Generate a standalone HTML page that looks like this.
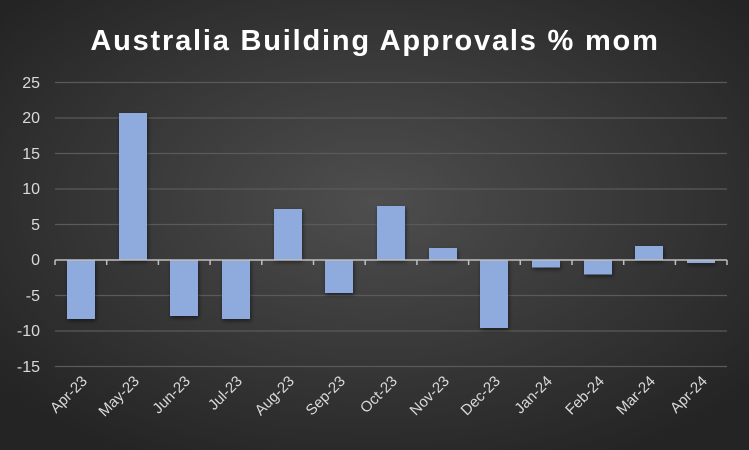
<!DOCTYPE html>
<html><head><meta charset="utf-8"><style>
html,body{margin:0;padding:0;width:749px;height:450px;overflow:hidden;background:#2a2a2a}
</style></head><body>
<svg width="749" height="450" xmlns="http://www.w3.org/2000/svg" font-family="Liberation Sans, sans-serif">
<defs>
<radialGradient id="bg" cx="50%" cy="45%" r="65%">
<stop offset="0" stop-color="#4e4e4e"/><stop offset="1" stop-color="#242424"/>
</radialGradient>
<filter id="sh"><feDropShadow dx="1" dy="2" stdDeviation="2" flood-color="#000" flood-opacity="0.5"/></filter>
</defs>
<rect width="749" height="450" fill="url(#bg)"/>
<text x="375" y="50" text-anchor="middle" fill="#fff" font-size="29" font-weight="bold" letter-spacing="1.8">Australia Building Approvals % mom</text>
<g stroke="#5a5a5a" stroke-width="1.3">
<line x1="55" x2="727" y1="82.5" y2="82.5"/><line x1="55" x2="727" y1="118" y2="118"/>
<line x1="55" x2="727" y1="153.5" y2="153.5"/><line x1="55" x2="727" y1="189" y2="189"/>
<line x1="55" x2="727" y1="224.5" y2="224.5"/><line x1="55" x2="727" y1="295.5" y2="295.5"/>
<line x1="55" x2="727" y1="331" y2="331"/><line x1="55" x2="727" y1="366.5" y2="366.5"/>
</g>
<g fill="#d9d9d9" font-size="16" text-anchor="end">
<text x="40" y="88">25</text><text x="40" y="123">20</text><text x="40" y="159">15</text>
<text x="40" y="194">10</text><text x="40" y="230">5</text><text x="40" y="265">0</text>
<text x="40" y="301">-5</text><text x="40" y="336">-10</text><text x="40" y="372">-15</text>
</g>
<g fill="#8faadc" filter="url(#sh)">
<rect x="67" y="260" width="28" height="59"/>
<rect x="119" y="113" width="28" height="147"/>
<rect x="170" y="260" width="28" height="56"/>
<rect x="222" y="260" width="28" height="59"/>
<rect x="274" y="209" width="28" height="51"/>
<rect x="325" y="260" width="28" height="33"/>
<rect x="377" y="206" width="28" height="54"/>
<rect x="429" y="248" width="28" height="12"/>
<rect x="480" y="260" width="28" height="68"/>
<rect x="532" y="260" width="28" height="7.5"/>
<rect x="584" y="260" width="28" height="14.5"/>
<rect x="635" y="246" width="28" height="14"/>
<rect x="687" y="260" width="28" height="3"/>
</g>
<g stroke="#bfbfbf" stroke-width="1.5">
<line x1="55" x2="727" y1="260" y2="260"/>
<path d="M55 260v5M106.7 260v5M158.4 260v5M210.1 260v5M261.8 260v5M313.5 260v5M365.2 260v5M416.9 260v5M468.6 260v5M520.3 260v5M572 260v5M623.7 260v5M675.4 260v5M727 260v5"/>
</g>
<g fill="#d9d9d9" font-size="15" text-anchor="end">
<text transform="translate(88,382) rotate(-45)">Apr-23</text>
<text transform="translate(140,382) rotate(-45)">May-23</text>
<text transform="translate(191,382) rotate(-45)">Jun-23</text>
<text transform="translate(243,382) rotate(-45)">Jul-23</text>
<text transform="translate(295,382) rotate(-45)">Aug-23</text>
<text transform="translate(346,382) rotate(-45)">Sep-23</text>
<text transform="translate(398,382) rotate(-45)">Oct-23</text>
<text transform="translate(450,382) rotate(-45)">Nov-23</text>
<text transform="translate(501,382) rotate(-45)">Dec-23</text>
<text transform="translate(553,382) rotate(-45)">Jan-24</text>
<text transform="translate(605,382) rotate(-45)">Feb-24</text>
<text transform="translate(656,382) rotate(-45)">Mar-24</text>
<text transform="translate(708,382) rotate(-45)">Apr-24</text>
</g>
</svg>
</body></html>
